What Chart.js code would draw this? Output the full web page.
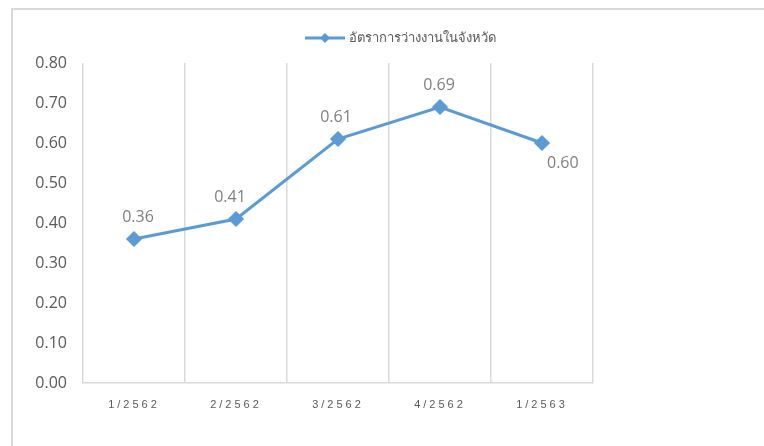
<!DOCTYPE html>
<html>
<head>
<meta charset="utf-8">
<script src="https://cdn.jsdelivr.net/npm/chart.js@4.4.0/dist/chart.umd.min.js"></script>
<style>
  html, body { margin: 0; padding: 0; background: #fff; }
  #wrap { width: 764px; height: 446px; }
</style>
</head>
<body>
<div id="wrap"><canvas id="rate-chart" width="764" height="446"></canvas></div>
<script>
// data
const quarters = ["1/2562", "2/2562", "3/2562", "4/2562", "1/2563"];
const unemploymentRate = [0.36, 0.41, 0.61, 0.69, 0.60];
const seriesName = "อัตราการว่างงานในจังหวัด";

// where each value label sits relative to its point
const labelSide = ["above", "above", "above", "above", "belowRight"];
const labelNudge = [4, -6, -2, -1, 0];

const lineBlue = "#5B9BD5";
const gridGray = "#d9d9d9";

// frame around the chart, like the office export
const framePlugin = {
	id: "frame",
	beforeDraw(chart) {
		const ctx = chart.ctx;
		ctx.save();
		ctx.strokeStyle = gridGray;
		ctx.lineWidth = 2;
		ctx.beginPath();
		ctx.moveTo(12, 446);
		ctx.lineTo(12, 9);
		ctx.lineTo(764, 9);
		ctx.stroke();
		ctx.restore();
	},
};

// spaced out x labels
const spacedLabels = {
	id: "spacedLabels",
	afterLayout(chart) {
		const xs = chart.scales.x;
		if (xs._patched) return;
		const orig = xs.drawLabels;
		xs.drawLabels = function (area) {
			chart.ctx.save();
			chart.ctx.letterSpacing = "3px";
			orig.call(xs, area);
			chart.ctx.restore();
		};
		xs._patched = true;
	},
};

// value labels on the points
const valueLabels = {
	id: "valueLabels",
	afterDatasetsDraw(chart) {
		const ctx = chart.ctx;
		const meta = chart.getDatasetMeta(0);
		ctx.save();
		ctx.font = "16px 'Open Sans', sans-serif";
		ctx.fillStyle = "#7f7f7f";
		ctx.textBaseline = "middle";
		meta.data.forEach((pt, i) => {
			const txt = unemploymentRate[i].toFixed(2);
			if (labelSide[i] === "belowRight") {
				ctx.textAlign = "left";
				ctx.fillText(txt, pt.x + 5 + labelNudge[i], pt.y + 20);
			} else {
				ctx.textAlign = "center";
				ctx.fillText(txt, pt.x + labelNudge[i], pt.y - 22);
			}
		});
		ctx.restore();
	},
};

// legend: line with diamond then the series name
const lineLegend = {
	id: "lineLegend",
	afterDraw(chart) {
		const ctx = chart.ctx;
		const y = 38;
		ctx.save();
		ctx.strokeStyle = lineBlue;
		ctx.lineWidth = 3;
		ctx.beginPath();
		ctx.moveTo(305, y);
		ctx.lineTo(345, y);
		ctx.stroke();
		ctx.fillStyle = lineBlue;
		ctx.beginPath();
		ctx.moveTo(325, y - 5);
		ctx.lineTo(330, y);
		ctx.lineTo(325, y + 5);
		ctx.lineTo(320, y);
		ctx.closePath();
		ctx.fill();
		ctx.font = "13px 'Noto Sans', 'DejaVu Sans', sans-serif";
		ctx.fillStyle = "#595959";
		ctx.textAlign = "left";
		ctx.textBaseline = "middle";
		ctx.fillText(seriesName, 349, y);
		ctx.restore();
	},
};

new Chart(document.getElementById("rate-chart"), {
	type: "line",
	data: {
		labels: quarters,
		datasets: [
			{
				label: seriesName,
				data: unemploymentRate,
				borderColor: lineBlue,
				backgroundColor: lineBlue,
				borderWidth: 3,
				pointStyle: "rectRot",
				pointRadius: 6,
				pointHoverRadius: 6,
				tension: 0,
			},
		],
	},
	options: {
		responsive: false,
		animation: false,
		layout: {
			padding: { left: 0, right: 171, top: 63, bottom: 0 },
		},
		plugins: {
			legend: { display: false },
			tooltip: { enabled: false },
		},
		scales: {
			x: {
				offset: true,
				grid: {
					offset: true,
					color: gridGray,
					lineWidth: 1.5,
					drawTicks: false,
				},
				border: { color: gridGray, width: 1.5 },
				ticks: {
					color: "#595959",
					font: { family: "'Liberation Sans', Arial, sans-serif", size: 11 },
					padding: 15,
					maxRotation: 0,
				},
				afterFit(scale) {
					scale.height = 63;
				},
			},
			y: {
				min: 0,
				max: 0.8,
				grid: { display: false, drawTicks: false },
				border: { display: false },
				ticks: {
					stepSize: 0.1,
					color: "#595959",
					font: { family: "'Open Sans', sans-serif", size: 16 },
					padding: 16,
					callback: (v) => v.toFixed(2),
				},
				afterFit(scale) {
					scale.width = 83;
				},
			},
		},
	},
	plugins: [framePlugin, spacedLabels, valueLabels, lineLegend],
});
</script>
</body>
</html>
